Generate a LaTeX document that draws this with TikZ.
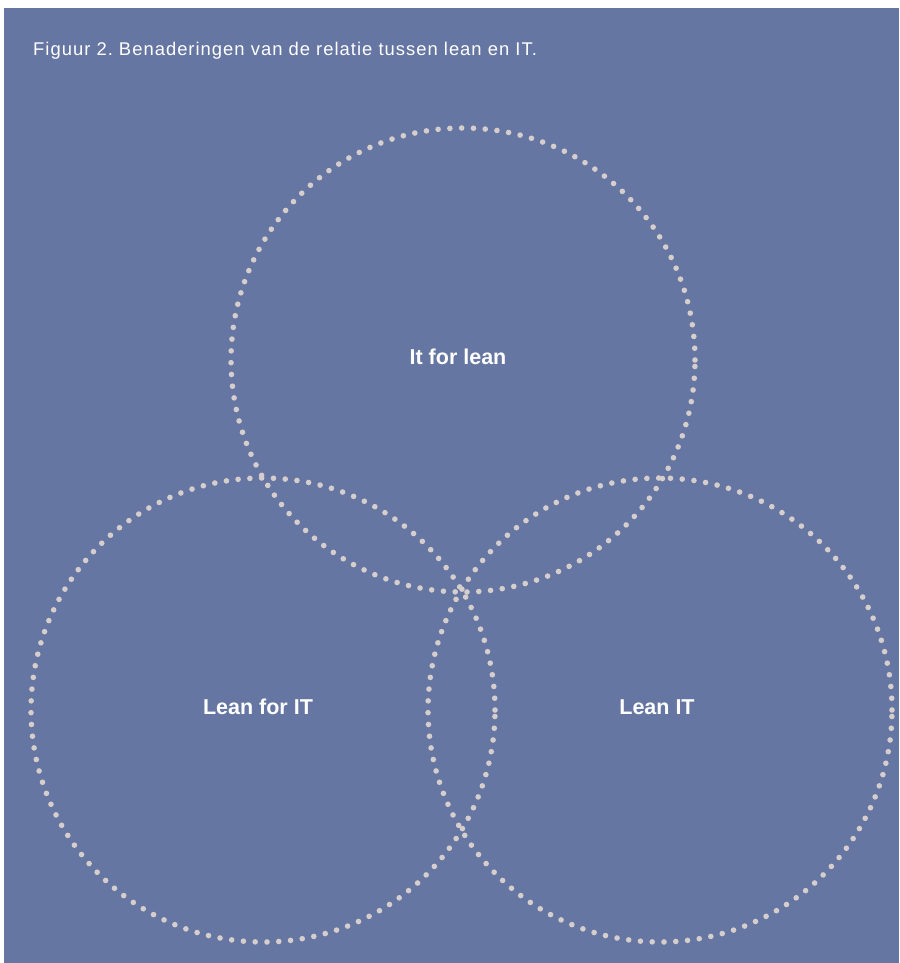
\documentclass[tikz,border=0pt]{standalone}
\usepackage{fontspec}
\setmainfont{Liberation Sans}
\definecolor{bgblue}{HTML}{6676A3}
\definecolor{dotgray}{HTML}{D6CDCD}
\begin{document}
\frenchspacing
\begin{tikzpicture}[x=1pt,y=-1pt,
  ring/.style={circle,inner sep=0pt,minimum size=464pt,draw=dotgray,line width=5.6pt,line cap=round,dash pattern=on 0pt off 11.8pt},
  lbl/.style={text=white,font=\fontsize{21.5}{25}\selectfont\bfseries}]
\useasboundingbox (0,0) rectangle (899,963);
\fill[white] (0,0) rectangle (899,963);
\fill[bgblue] (4,8) rectangle (899,963);
\node[anchor=base west,text=white,inner sep=0pt,font=\fontsize{18.4}{22}\selectfont\addfontfeature{LetterSpace=5.5}] (title) at (33,56) {Figuur 2. Benaderingen van de relatie tussen lean en IT.};
\node[ring] (top) at (463,360) {};
\node[ring] (left) at (263,710) {};
\node[ring] (right) at (660,710) {};
\node[lbl] (ltop) at (458,357) {It for lean};
\node[lbl] (lleft) at (258,707) {Lean for IT};
\node[lbl] (lright) at (657,707) {Lean IT};
\end{tikzpicture}
\end{document}
